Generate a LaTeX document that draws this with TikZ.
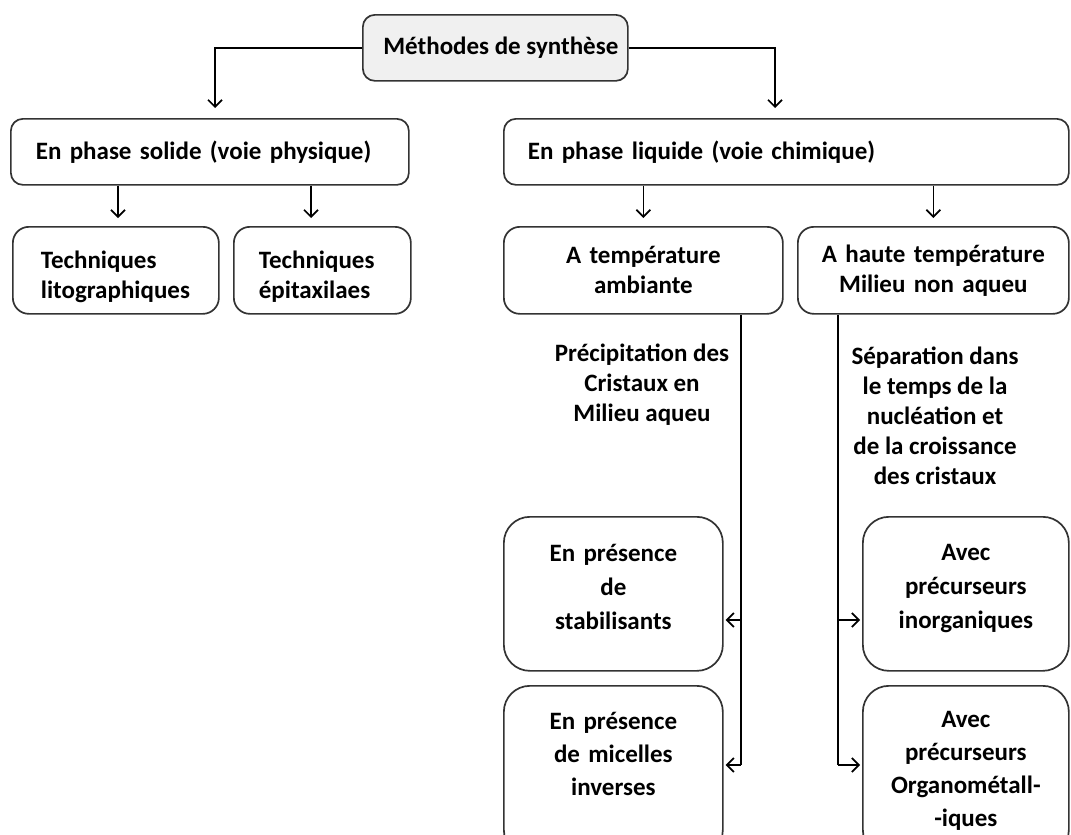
\documentclass[tikz,border=0pt]{standalone}
\usepackage{fontspec}
\setmainfont{Carlito}
\usetikzlibrary{arrows.meta}

\tikzset{
  box/.style={draw=black!80, line width=1.7pt, fill=white, rounded corners=#1,
    inner xsep=0pt, inner ysep=0pt, anchor=north west, align=center,
    font=\fontsize{25}{30}\selectfont\bfseries},
  box/.default=12pt,
  conn/.style={line width=1.7pt, shorten >=2pt,
    -{Straight Barb[length=7pt,width=14pt,line width=1.7pt]}},
  trunk/.style={line width=1.7pt},
  note/.style={align=center, font=\fontsize{25}{30}\selectfont\bfseries},
}

\begin{document}
\begin{tikzpicture}[x=1pt,y=-1pt]
  \useasboundingbox (0,0) rectangle (1071,835);
  \clip (0,0) rectangle (1071,835);

  % top level
  \node[box, fill=black!6, minimum width=265pt, minimum height=66pt]
    (synth) at (362,14) {\hspace{11pt}Méthodes de synthèse};

  \node[box, minimum width=398pt, minimum height=66pt, inner xsep=25pt,
    text width=348pt, align=left] (solide) at (10,118) {En phase solide (voie physique)};
  \node[box, minimum width=565pt, minimum height=66pt, inner xsep=24pt,
    text width=517pt, align=left] (liquide) at (503,118) {En phase liquide (voie chimique)};

  % physical route
  \node[box=16pt, minimum width=206pt, minimum height=87pt, inner xsep=28pt,
    text width=150pt, align=left] (lito) at (12,226) {\rule{0pt}{30pt}Techniques\\litographiques};
  \node[box=16pt, minimum width=177pt, minimum height=87pt, inner xsep=25pt,
    text width=127pt, align=left] (epi) at (233,226) {\rule{0pt}{30pt}Techniques\\épitaxilaes};

  % chemical route
  \node[box=16pt, minimum width=279pt, minimum height=87pt, text width=279pt]
    (ambiante) at (503,226) {A température\\ambiante};
  \node[box=16pt, minimum width=271pt, minimum height=87pt, text width=271pt]
    (haute) at (797,226) {A haute température\\Milieu non aqueu};

  \node[note] (precip) at (642,385) {Précipitation des\\Cristaux en\\Milieu aqueu};
  \node[note] (separ) at (935,416) {Séparation dans\\le temps de la\\nucléation et\\de la croissance\\des cristaux};

  \node[box=26pt, minimum width=219pt, minimum height=154pt, text width=219pt,
    font=\fontsize{25}{34}\selectfont\bfseries] (stab) at (503,516) {En présence\\de\\stabilisants\\[-20pt]\mbox{}};
  \node[box=26pt, minimum width=219pt, minimum height=170pt, text width=219pt,
    font=\fontsize{25}{33}\selectfont\bfseries] (micel) at (503,685) {En présence\\de micelles\\inverses\\\mbox{}};
  \node[box=26pt, minimum width=206pt, minimum height=154pt, text width=206pt,
    font=\fontsize{25}{34}\selectfont\bfseries] (inorg) at (862,516) {Avec\\précurseurs\\inorganiques\\[-20pt]\mbox{}};
  \node[box=26pt, minimum width=206pt, minimum height=170pt, text width=206pt,
    font=\fontsize{25}{33}\selectfont\bfseries] (organo) at (862,685) {Avec\\précurseurs\\Organométall-\\-iques};

  % connectors
  \coordinate (lsplit) at (215,0);
  \coordinate (rsplit) at (775,0);
  \draw[conn, shorten >=10pt] (synth.west) -| (solide.north -| lsplit);
  \draw[conn, shorten >=10pt] (synth.east) -| (liquide.north -| rsplit);

  \draw[conn, shorten >=8pt] (solide.south -| 118,0) -- (lito.north -| 118,0);
  \draw[conn, shorten >=8pt] (solide.south -| 311,0) -- (epi.north -| 311,0);
  \draw[conn, shorten >=8pt] (liquide.south -| ambiante.north) -- (ambiante.north);
  \draw[conn, shorten >=8pt] (liquide.south -| haute.north) -- (haute.north);

  \coordinate (ltop) at (741,620);
  \coordinate (lbot) at (741,765);
  \coordinate (rtop) at (838,620);
  \coordinate (rbot) at (838,765);
  \draw[trunk] (ambiante.south -| lbot) -- (lbot);
  \draw[conn] (lbot) -- (micel.east |- lbot);
  \draw[conn] (ltop) -- (stab.east |- ltop);
  \draw[trunk] (haute.south -| rbot) -- (rbot);
  \draw[conn] (rbot) -- (organo.west |- rbot);
  \draw[conn] (rtop) -- (inorg.west |- rtop);
\end{tikzpicture}
\end{document}
